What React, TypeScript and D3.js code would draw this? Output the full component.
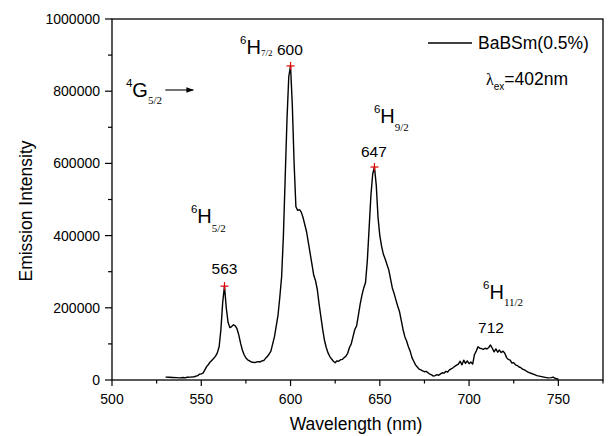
import React from "react";
import * as d3 from "d3";

// Emission spectrum (wavelength nm, intensity)
const wavelengths = [
  530, 532, 534, 536, 538, 540, 541, 542, 544, 546, 548, 549, 550, 551, 552, 553, 554, 555, 556, 557, 558, 559,
  560, 561, 562, 563, 564, 565, 566, 567, 568, 569, 570, 571, 572, 573, 574, 575, 576, 577, 578, 579,
  580, 581, 582, 583, 584, 585, 586, 587, 588, 589, 590, 591, 592, 593, 594, 595, 596, 597, 598, 599,
  600, 601, 602, 603, 604, 605, 606, 607, 608, 609, 610, 611, 612, 613, 614, 615, 616, 617, 618, 619,
  620, 621, 622, 623, 624, 625, 626, 627, 628, 629, 630, 631, 632, 633, 634, 635, 636, 637, 638, 639,
  640, 641, 642, 643, 644, 645, 646, 647, 648, 649, 650, 651, 652, 653, 654, 655, 656, 657, 658, 659,
  660, 661, 662, 663, 664, 665, 666, 667, 668, 669, 670, 671, 672, 673, 674, 675, 676, 677, 678, 679,
  680, 681, 682, 683, 684, 685, 686, 687, 688, 689, 690, 691, 692, 693, 694, 695, 696, 697, 698, 699,
  700, 701, 702, 703, 704, 705, 706, 707, 708, 709, 710, 711, 712, 713, 714, 715, 716, 717, 718, 719,
  720, 721, 722, 723, 724, 725, 726, 727, 728, 729, 730, 731, 732, 733, 734, 735, 736, 737, 738,
  740, 742, 744, 746, 747, 748, 750,
];
const intensities = [
  8000, 7500, 7000, 6500, 6000, 7000, 6000, 7500, 8000, 9000, 12000, 16000, 17000, 19000, 28000, 37000, 43000, 50000, 55000, 60000, 66000, 75000,
  92000, 140000, 215000, 260000, 200000, 160000, 145000, 148000, 153000, 150000, 142000, 125000, 102000, 83000, 70000, 61000, 56000, 53000, 50000, 49000,
  48000, 50000, 51000, 50000, 53000, 54000, 60000, 65000, 72000, 80000, 100000, 120000, 150000, 180000, 230000, 286000, 400000, 560000, 720000, 840000,
  870000, 760000, 600000, 480000, 470000, 472000, 465000, 450000, 430000, 410000, 380000, 350000, 320000, 290000, 275000, 250000, 210000, 175000, 140000, 110000,
  90000, 75000, 65000, 58000, 52000, 48000, 53000, 52000, 56000, 57000, 62000, 66000, 74000, 90000, 100000, 120000, 140000, 150000, 180000, 210000,
  235000, 255000, 270000, 330000, 420000, 510000, 570000, 590000, 540000, 450000, 400000, 370000, 348000, 335000, 320000, 305000, 280000, 255000, 240000, 222000,
  205000, 190000, 165000, 140000, 120000, 108000, 92000, 80000, 62000, 52000, 42000, 36000, 30000, 28000, 25000, 23000, 24000, 20000, 16000, 14000,
  11000, 12000, 15000, 13000, 17000, 20000, 19000, 24000, 22000, 28000, 31000, 34000, 38000, 41000, 44000, 52000, 42000, 55000, 46000, 53000,
  45000, 50000, 44000, 70000, 80000, 92000, 88000, 87000, 85000, 88000, 86000, 90000, 97000, 88000, 78000, 86000, 77000, 83000, 76000, 80000,
  74000, 62000, 57000, 55000, 47000, 48000, 42000, 40000, 36000, 34000, 30000, 28000, 25000, 22000, 20000, 18000, 16000, 14000, 12000,
  10000, 8000, 6000, 6500, 8000, 5000, 2000,
];

// Marked peaks
const peakWavelengths = [563, 600, 647];
const peakIntensities = [260000, 870000, 590000];

// Axis ticks
const xTicks = [500, 550, 600, 650, 700, 750];
const xMinorTicks = [525, 575, 625, 675, 725, 775];
const yTicks = [0, 200000, 400000, 600000, 800000, 1000000];
const yMinorTicks = [100000, 300000, 500000, 700000, 900000];

const seriesName = "BaBSm(0.5%)";

// Term-symbol annotations (anchored in data units)
const terms = [
  { sup: "4", main: "G", sub: "5/2", w: 507.8, v: 784000, subDy: 7, subSize: 11 },
  { sup: "6", main: "H", sub: "7/2", w: 571.7, v: 903000, subDy: 2, subSize: 9 },
  { sup: "6", main: "H", sub: "9/2", w: 646.7, v: 712000, subDy: 8, subSize: 11 },
  { sup: "6", main: "H", sub: "5/2", w: 544.2, v: 435000, subDy: 9, subSize: 11 },
  { sup: "6", main: "H", sub: "11/2", w: 707.8, v: 224000, subDy: 7, subSize: 11 },
];
const peakLabels = [
  { text: "563", w: 563, v: 294000 },
  { text: "600", w: 599.6, v: 900000 },
  { text: "647", w: 646.7, v: 618000 },
  { text: "712", w: 712.3, v: 130000 },
];

const W = 608;
const H = 436;
const margin = { left: 112, right: 5, top: 19, bottom: 56 };
const SANS = "Arial, 'Liberation Sans', Helvetica, sans-serif";
const SERIF = "'Times New Roman', 'Liberation Serif', serif";

export default function App() {
  const x = d3.scaleLinear().domain([500, 775]).range([margin.left, W - margin.right]);
  const y = d3.scaleLinear().domain([0, 1000000]).range([H - margin.bottom, margin.top]);
  const data = wavelengths.map((w, i) => [w, intensities[i]] as [number, number]);
  const line = d3
    .line<[number, number]>()
    .x((d) => x(d[0]))
    .y((d) => y(d[1]));
  const x0 = x.range()[0];
  const x1 = x.range()[1];
  const y0 = y.range()[0];
  const y1 = y.range()[1];

  return (
    <svg
      width={W}
      height={H}
      style={{ position: "absolute", left: 0, top: 0, background: "#fff" }}
      fontFamily={SANS}
    >
      <defs>
        <marker id="arr" viewBox="0 0 10 10" refX="9" refY="5" markerWidth="7" markerHeight="7" orient="auto">
          <path d="M0,1.5 L10,5 L0,8.5 z" fill="#000" />
        </marker>
      </defs>
      <rect x={0} y={0} width={W} height={H} fill="#fff" />
      {/* curve */}
      <path d={line(data) || ""} fill="none" stroke="#000" strokeWidth={1.4} strokeLinejoin="round" />
      {/* peak markers */}
      {peakWavelengths.map((w, i) => (
        <g key={"pk" + i} stroke="#e00000" strokeWidth={1.2}>
          <line x1={x(w) - 4} x2={x(w) + 4} y1={y(peakIntensities[i])} y2={y(peakIntensities[i])} />
          <line x1={x(w)} x2={x(w)} y1={y(peakIntensities[i]) - 4} y2={y(peakIntensities[i]) + 4} />
        </g>
      ))}
      {/* frame */}
      <rect x={x0} y={y1} width={x1 - x0} height={y0 - y1} fill="none" stroke="#000" strokeWidth={1.3} />
      {/* x ticks */}
      {xTicks.map((t) => (
        <g key={"xt" + t}>
          <line x1={x(t)} x2={x(t)} y1={y0} y2={y0 + 6} stroke="#000" strokeWidth={1.2} />
          <text x={x(t)} y={y0 + 24} textAnchor="middle" fontSize={14}>
            {t}
          </text>
        </g>
      ))}
      {xMinorTicks.map((t) => (
        <line key={"xm" + t} x1={x(t)} x2={x(t)} y1={y0} y2={y0 + 3.5} stroke="#000" strokeWidth={1.2} />
      ))}
      {/* y ticks */}
      {yTicks.map((t) => (
        <g key={"yt" + t}>
          <line x1={x0 - 7} x2={x0} y1={y(t)} y2={y(t)} stroke="#000" strokeWidth={1.2} />
          <text x={x0 - 12} y={y(t) + 5} textAnchor="end" fontSize={14}>
            {t}
          </text>
        </g>
      ))}
      {yMinorTicks.map((t) => (
        <line key={"ym" + t} x1={x0 - 4} x2={x0} y1={y(t)} y2={y(t)} stroke="#000" strokeWidth={1.2} />
      ))}
      {/* axis titles */}
      <text x={356} y={430} textAnchor="middle" fontSize={17.5}>
        Wavelength (nm)
      </text>
      <text transform={`translate(32,211) rotate(-90)`} textAnchor="middle" fontSize={17.5}>
        Emission Intensity
      </text>
      {/* legend */}
      <line x1={428} x2={472} y1={43} y2={43} stroke="#000" strokeWidth={1.3} />
      <text x={478} y={49} fontSize={17.5}>
        {seriesName}
      </text>
      <text x={486} y={85} fontSize={17.5}>
        <tspan fontFamily={SERIF} fontSize={16}>λ</tspan>
        <tspan fontSize={10} dy={5}>ex</tspan>
        <tspan dy={-5}>=402nm</tspan>
      </text>
      {/* term annotations */}
      {terms.map((t, i) => (
        <text key={"tm" + i} x={x(t.w)} y={y(t.v)}>
          <tspan fontSize={11.5} dy={-10}>{t.sup}</tspan>
          <tspan fontSize={20} dy={10}>{t.main}</tspan>
          <tspan fontFamily={SERIF} fontSize={t.subSize} dy={t.subDy}>{t.sub}</tspan>
        </text>
      ))}
      {peakLabels.map((p, i) => (
        <text key={"pl" + i} x={x(p.w)} y={y(p.v)} textAnchor="middle" fontSize={15.5}>
          {p.text}
        </text>
      ))}
      {/* arrow for 4G5/2 */}
      <line x1={x(508) + 39} x2={x(508) + 67} y1={90} y2={90} stroke="#000" strokeWidth={1.1} markerEnd="url(#arr)" />
    </svg>
  );
}
